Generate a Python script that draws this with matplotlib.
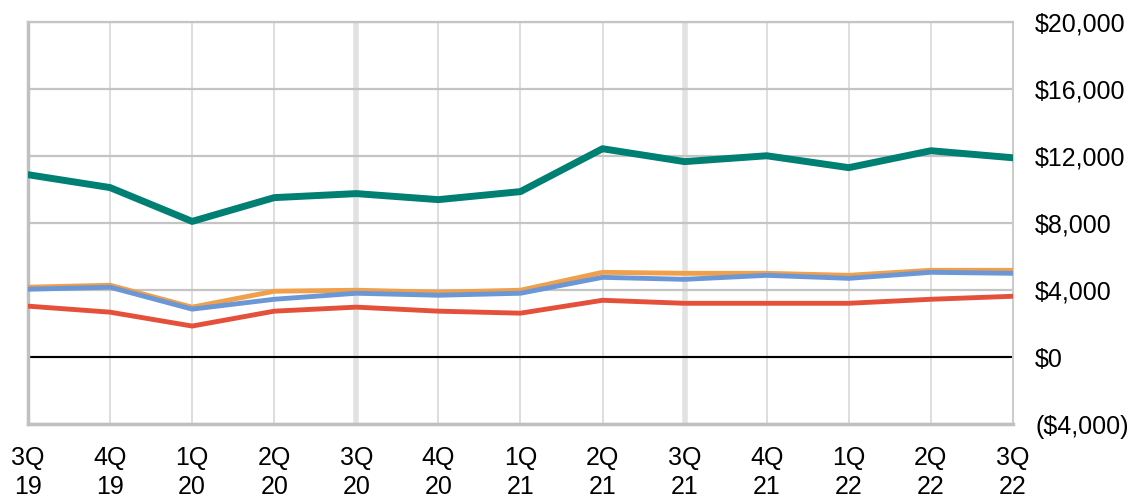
import matplotlib.pyplot as plt
from matplotlib.ticker import FuncFormatter

plt.rcParams['font.family'] = ['Liberation Sans', 'DejaVu Sans']

# quarters on the x axis
quarters = ['3Q\n19', '4Q\n19', '1Q\n20', '2Q\n20', '3Q\n20', '4Q\n20', '1Q\n21',
            '2Q\n21', '3Q\n21', '4Q\n21', '1Q\n22', '2Q\n22', '3Q\n22']

# series values
teal = [10890, 10120, 8100, 9520, 9760, 9400, 9880, 12440, 11670, 12020, 11310, 12320, 11900]
orange = [4170, 4290, 2980, 3930, 3990, 3870, 3990, 5060, 5000, 5000, 4880, 5180, 5180]
blue = [4050, 4170, 2860, 3450, 3810, 3690, 3810, 4760, 4640, 4880, 4700, 5060, 5000]
red = [3040, 2680, 1850, 2740, 2980, 2740, 2620, 3390, 3210, 3210, 3210, 3450, 3630]

yticks = [-4000, 0, 4000, 8000, 12000, 16000, 20000]

def money(v, pos):
    if v < 0:
        return '(${:,.0f})'.format(-v)
    return '${:,.0f}'.format(v)

fig = plt.figure(figsize=(11.38, 5.03), dpi=100)
ax = fig.add_axes([0.0246, 0.157, 0.8655, 0.799])

x = list(range(len(quarters)))

# vertical grid, thicker at each 3Q
for i in x:
    if i in (4, 8):
        ax.axvline(i, color='#e2e2e2', lw=4, zorder=0)
    else:
        ax.axvline(i, color='#dedede', lw=1.4, zorder=0)

for t in yticks:
    ax.axhline(t, color='#c4c4c4', lw=1.6, zorder=1)
ax.axhline(0, color='black', lw=1.5, zorder=2)

ax.plot(x, teal, color='#007f73', lw=5, solid_capstyle='round', zorder=5)
ax.plot(x, orange, color='#f0a04a', lw=3.5, zorder=4)
ax.plot(x, blue, color='#6b97d6', lw=3.5, zorder=4)
ax.plot(x, red, color='#e4503a', lw=3.5, zorder=4)

ax.set_xlim(0, len(quarters) - 1)
ax.set_ylim(-4000, 20000)
ax.set_xticks(x)
ax.set_xticklabels(quarters, fontsize=18, linespacing=1.25)
ax.set_yticks(yticks)
ax.yaxis.set_major_formatter(FuncFormatter(money))
ax.yaxis.tick_right()
ax.tick_params(axis='y', length=0, pad=16, labelsize=18)
ax.tick_params(axis='x', length=0, pad=16)

for s in ['left', 'bottom']:
    ax.spines[s].set_color('#c0c0c0')
    ax.spines[s].set_linewidth(2.5)
ax.spines['right'].set_color('#cccccc')
ax.spines['right'].set_linewidth(1.5)
ax.spines['top'].set_color('#c4c4c4')
ax.spines['top'].set_linewidth(1.6)

fig.savefig('out.png', dpi=100)
